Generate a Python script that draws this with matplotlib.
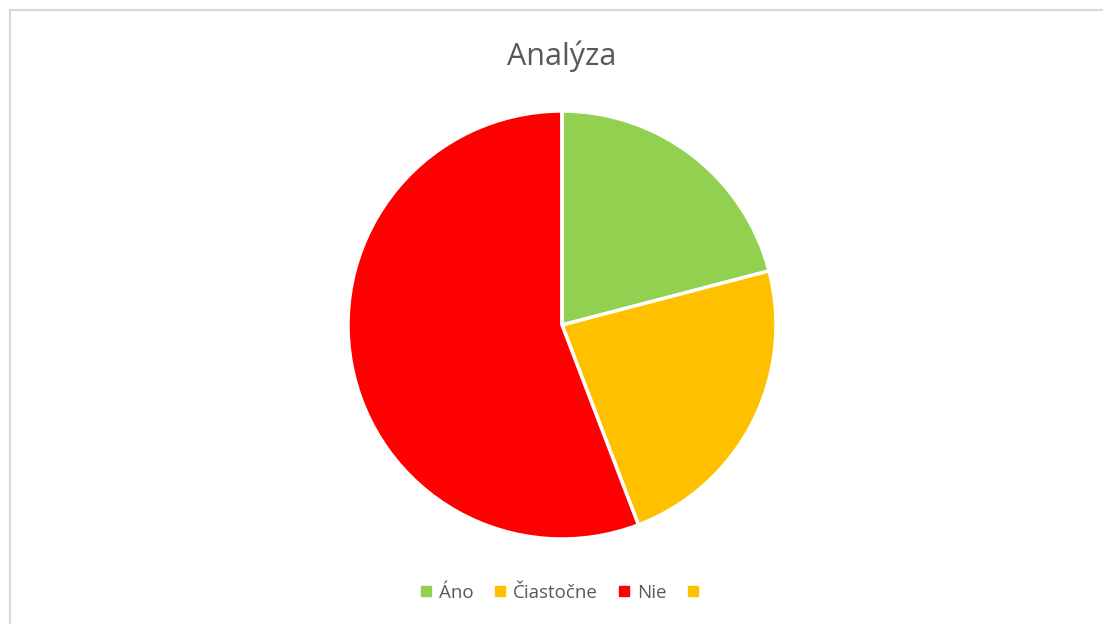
import matplotlib.pyplot as plt
from matplotlib.lines import Line2D
from matplotlib.patches import Rectangle

plt.rcParams['font.family'] = ['Open Sans', 'DejaVu Sans']

labels = ["Áno", "Čiastočne", "Nie", ""]
values = [9, 10, 24, 0]
colors = ["#92D050", "#FFC000", "#FF0000", "#FFC000"]

W, H = 1103, 624
fig = plt.figure(figsize=(W / 100, H / 100), dpi=100)

# chart frame (right and bottom edges fall outside the picture)
fig.patches.append(Rectangle((10 / W, -0.1), 1.2, 1 - 10 / H + 0.1,
                             transform=fig.transFigure, fill=False,
                             edgecolor="#D9D9D9", linewidth=1.5))

cx, cy, r = 562, 325, 214
ax = fig.add_axes([(cx - r) / W, (H - cy - r) / H, 2 * r / W, 2 * r / H])
ax.pie(values, colors=colors, startangle=90, counterclock=False,
       wedgeprops=dict(edgecolor="white", linewidth=2.5))
ax.set_xlim(-1.0, 1.0)
ax.set_ylim(-1.0, 1.0)
ax.set_aspect("equal")
ax.axis("off")

fig.text(cx / W, 1 - 56 / H, "Analýza", ha="center", va="center",
         fontsize=22, color="#595959")

handles = [Line2D([], [], marker="s", linestyle="", markersize=7,
                  markerfacecolor=c, markeredgecolor=c) for c in colors]
fig.legend(handles, labels, loc="center", bbox_to_anchor=(cx / W, 1 - 593 / H),
           ncol=4, frameon=False, fontsize=13.5, handlelength=0.8,
           handletextpad=0.3, columnspacing=1.0, labelcolor="#595959")

fig.savefig("out.png", dpi=100)
